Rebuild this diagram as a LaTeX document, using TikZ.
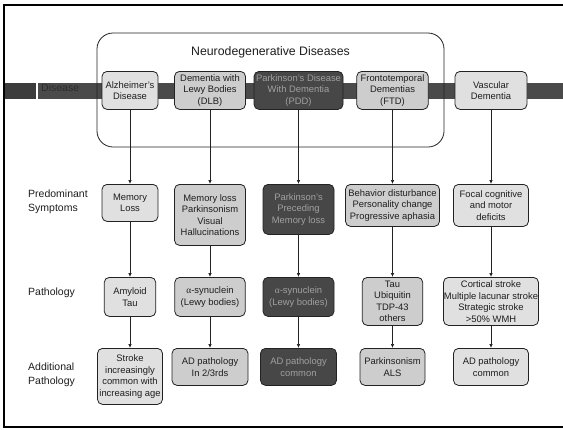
\documentclass[tikz,border=0pt]{standalone}
\usepackage{fontspec}
\setmainfont{Liberation Sans}
\newfontfamily\grk{Liberation Serif}
\usetikzlibrary{arrows.meta}
\definecolor{lightbox}{HTML}{E0E0E0}
\definecolor{midbox}{HTML}{CDCDCD}
\definecolor{darkbox}{HTML}{474747}
\definecolor{darktext}{HTML}{A0A0A0}
\definecolor{bandA}{HTML}{3C3C3C}
\definecolor{bandB}{HTML}{4A4A4A}
\definecolor{edge}{HTML}{222222}
\definecolor{labeltext}{HTML}{1E1E1E}
\definecolor{disetext}{HTML}{2C2C2C}
\begin{document}
\begin{tikzpicture}[x=1pt,y=-1pt,
  box/.style={draw=edge, line width=0.8pt, rounded corners=5pt, align=center, inner sep=0pt, anchor=north, text=labeltext, font=\fontsize{9.4}{11.5}\selectfont},
  lt/.style={box, fill=lightbox},
  md/.style={box, fill=midbox},
  dk/.style={box, fill=darkbox, text=darktext},
  rowlabel/.style={anchor=west, align=left, inner sep=0pt, text=labeltext, font=\fontsize{10.5}{13.5}\selectfont},
  conn/.style={draw=edge, line width=0.7pt, -{Latex[length=4pt,width=3.5pt]}},
]
\useasboundingbox (0,0) rectangle (563,429);
\fill[white] (0,0) rectangle (563,429);
\draw[line width=1.8pt] (563,5) -- (4,5) -- (4,427) -- (563,427);
% band
\fill[bandA] (5,83) rectangle (36,99);
\fill[bandB] (38,83) rectangle (563,99);
% group
\node[draw=edge, line width=0.8pt, rounded corners=16pt, minimum width=347, minimum height=114, inner sep=0pt] (group) at (270.5,90) {};
\node[inner sep=0pt, text=labeltext, font=\fontsize{12.3}{14}\selectfont] (title) at (270.5,52) {Neurodegenerative Diseases};
% row labels
\node[rowlabel, text=disetext] (lblD) at (41,88) {Disease};
\node[rowlabel] (lblS) at (28,202) {Predominant\\Symptoms};
\node[rowlabel] (lblP) at (28,293) {Pathology};
\node[rowlabel] (lblA) at (28,375) {Additional\\Pathology};
% disease row
\node[lt, minimum width=56, minimum height=38] (d1) at (130,71) {Alzheimer's\\Disease};
\node[md, minimum width=71, minimum height=38] (d2) at (210,71) {Dementia with\\Lewy Bodies\\(DLB)};
\node[dk, minimum width=89, minimum height=38] (d3) at (298.5,71) {Parkinson's Disease\\With Dementia\\(PDD)};
\node[md, minimum width=71.5, minimum height=38] (d4) at (392.5,71) {Frontotemporal\\Dementias\\(FTD)};
\node[lt, minimum width=72, minimum height=38] (d5) at (491,71) {Vascular\\Dementia};
% symptoms row
\node[lt, minimum width=56, minimum height=37] (s1) at (130,184) {Memory\\Loss};
\node[md, minimum width=71, minimum height=61] (s2) at (210,184) {Memory loss\\Parkinsonism\\Visual\\Hallucinations};
\node[dk, minimum width=71, minimum height=50] (s3) at (298.5,184) {Parkinson's\\Preceding\\Memory loss};
\node[md, minimum width=94, minimum height=42] (s4) at (392.5,184) {Behavior disturbance\\Personality change\\Progressive aphasia};
\node[lt, minimum width=75, minimum height=42] (s5) at (491,184) {Focal cognitive\\and motor\\deficits};
% pathology row
\node[lt, minimum width=51.5, minimum height=39] (p1) at (130,277) {Amyloid\\Tau};
\node[md, minimum width=70.5, minimum height=39] (p2) at (210,277) {{\grk α}-synuclein\\(Lewy bodies)};
\node[dk, minimum width=71, minimum height=39] (p3) at (298.5,277) {{\grk α}-synuclein\\(Lewy bodies)};
\node[md, minimum width=60.5, minimum height=48] (p4) at (392.5,277) {Tau\\Ubiquitin\\TDP-43\\others};
\node[lt, minimum width=95, minimum height=48] (p5) at (491,277) {Cortical stroke\\Multiple lacunar stroke\\Strategic stroke\\>50\% WMH};
% additional row
\node[lt, minimum width=65, minimum height=56] (a1) at (130,348) {Stroke\\increasingly\\common with\\increasing age};
\node[md, minimum width=76, minimum height=37] (a2) at (210,348) {AD pathology\\In 2/3rds};
\node[dk, minimum width=76, minimum height=37] (a3) at (298.5,348) {AD pathology\\common};
\node[md, minimum width=65, minimum height=37] (a4) at (392.5,348) {Parkinsonism\\ALS};
\node[lt, minimum width=75, minimum height=37] (a5) at (491,348) {AD pathology\\common};
% connectors
\foreach \c in {1,...,5} {
  \draw[conn] (d\c.south) -- (s\c.north);
  \draw[conn] (s\c.south) -- (p\c.north);
  \draw[conn] (p\c.south) -- (a\c.north);
}
\end{tikzpicture}
\end{document}
